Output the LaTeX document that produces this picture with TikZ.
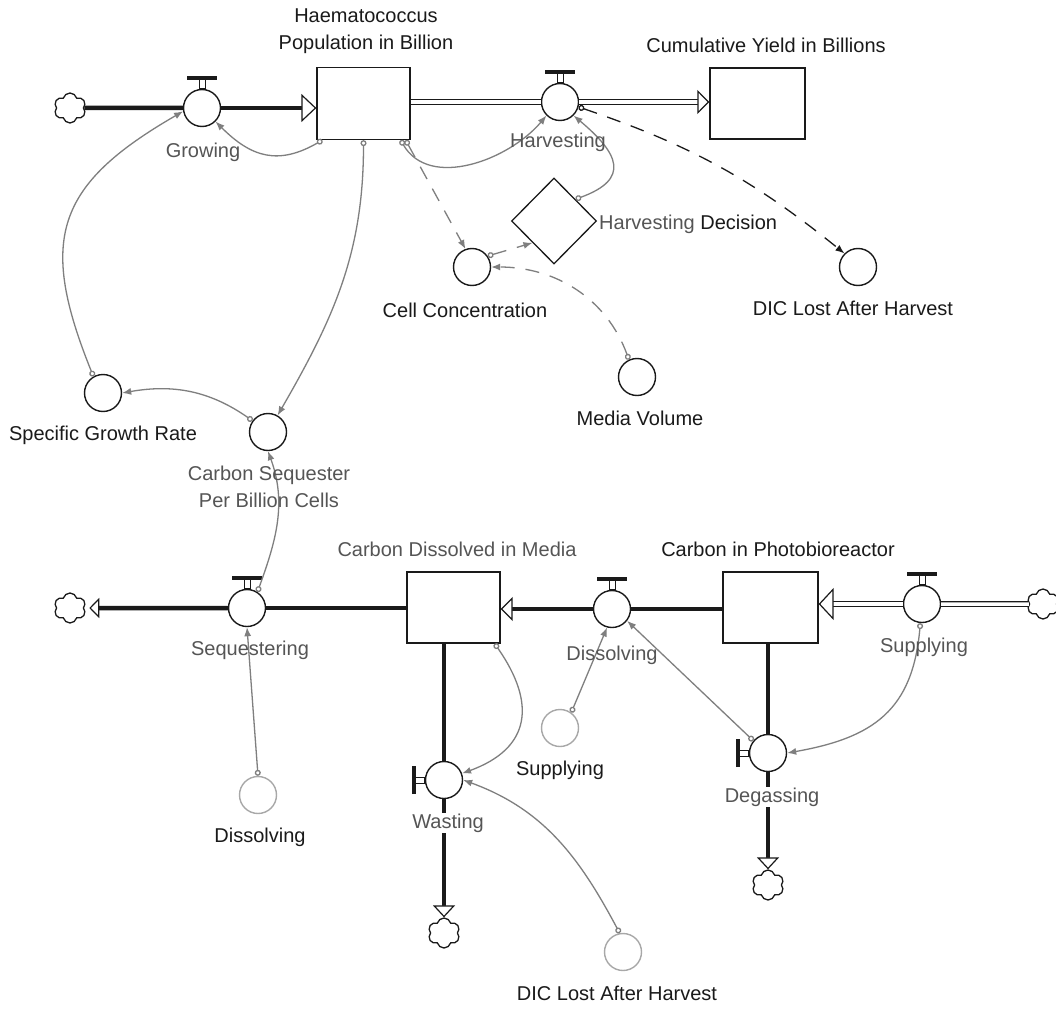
\documentclass[tikz,border=0pt]{standalone}
\usepackage{fontspec}
\setmainfont{Liberation Sans}
\usetikzlibrary{arrows.meta,shapes.geometric,shapes.symbols}
\definecolor{sdink}{HTML}{1A1A1A}
\definecolor{sdmuted}{HTML}{555555}
\definecolor{sdlink}{HTML}{7F7F7F}
\definecolor{sdshadow}{HTML}{A8A8A8}
\tikzset{
  sdtext/.style={font=\fontsize{20}{27}\selectfont, text=sdink, inner sep=1pt},
  valvetext/.style={sdtext, text=sdmuted},
  stockbox/.style={rectangle, draw=sdink, line width=1.3pt, fill=white,
    minimum width=93pt, minimum height=72pt, inner sep=0pt},
  valve/.style={circle, draw=sdink, line width=1.4pt, fill=white,
    minimum size=37pt, inner sep=0pt},
  auxvar/.style={circle, draw=sdink, line width=1.4pt, fill=white,
    minimum size=37pt, inner sep=0pt},
  shadowvar/.style={auxvar, draw=sdshadow},
  decisionbox/.style={diamond, draw=sdink, line width=1.3pt, fill=white,
    minimum width=85pt, minimum height=86pt, inner sep=0pt},
  sdcloud/.style={cloud, cloud puffs=6, aspect=1, draw=sdink, line width=1.3pt,
    fill=white, minimum width=32pt, minimum height=30pt, inner sep=0pt},
  solidpipe/.style={draw=sdink, line width=4.5pt},
  doublepipe/.style={draw=sdink, line width=1.1pt, double=white, double distance=3.5pt},
  valvestem/.style={draw=sdink, line width=1pt, fill=white},
  valvebar/.style={draw=sdink, line width=4pt},
  infolink/.style={draw=sdlink, line width=1.3pt,
    {Circle[open, length=6pt]}-{Latex[length=9pt, width=7pt]}},
  dashlink/.style={infolink, dash pattern=on 14pt off 11pt}
}

\begin{document}
\begin{tikzpicture}[x=1pt,y=-1pt]
  % stock and flow map: algae population on top, carbon chain below
  \fill[white] (0,0) rectangle (1056,1008);
  \useasboundingbox (0,0) rectangle (1056,1008);

  \node[stockbox] (stkPop) at (363.5,103.5) {};
  \node[stockbox, minimum width=95pt, minimum height=71pt] (stkCum) at (757.5,103.5) {};
  \node[stockbox, minimum height=71pt] (stkMedia) at (453.5,607.5) {};
  \node[stockbox, minimum width=95pt, minimum height=71pt] (stkPhoto) at (770.5,607.5) {};

  \node[valve] (vGrow) at (202,108) {};
  \node[valve] (vHarv) at (560,102) {};
  \node[valve] (vSeq) at (247,608) {};
  \node[valve] (vDiss) at (612,609) {};
  \node[valve] (vSupp) at (922,604) {};
  \node[valve] (vWaste) at (444,780) {};
  \node[valve] (vDegas) at (768,753) {};

  \node[sdcloud] (cloudGrow) at (70,108) {};
  \node[sdcloud] (cloudSeq) at (70,608) {};
  \node[sdcloud] (cloudSupp) at (1043,604) {};
  \node[sdcloud] (cloudWaste) at (444,933) {};
  \node[sdcloud] (cloudDegas) at (768,885) {};

  \node[auxvar] (cellConc) at (472,267) {};
  \node[auxvar] (dicTop) at (858,267) {};
  \node[auxvar] (mediaVol) at (637,377) {};
  \node[auxvar] (growRate) at (103,393) {};
  \node[auxvar] (seqPerCell) at (268,432) {};
  \node[shadowvar] (dissAux) at (258,795) {};
  \node[shadowvar] (suppAux) at (560,728) {};
  \node[shadowvar] (dicBot) at (623,952) {};
  \node[decisionbox] (harvDec) at (554,221) {};

  \draw[solidpipe] (cloudGrow.east) -- (vGrow.west);
  \draw[solidpipe, -{Triangle[fill=white, line width=1.2pt, length=15pt, width=28pt]}]
    (vGrow.east) -- (vGrow -| stkPop.west);
  \draw[doublepipe] (stkPop.east |- vHarv) -- (vHarv.west);
  \draw[doublepipe, -{Triangle[fill=white, line width=1.2pt, length=12pt, width=24pt]}]
    (vHarv.east) -- (vHarv -| stkCum.west);
  \draw[solidpipe] (vSeq -| stkMedia.west) -- (vSeq.east);
  \draw[solidpipe, -{Triangle[fill=white, line width=1.2pt, length=10pt, width=20pt]}]
    (vSeq.west) -- ([xshift=5pt]cloudSeq.east);
  \draw[solidpipe] (vDiss -| stkPhoto.west) -- (vDiss.east);
  \draw[solidpipe, -{Triangle[fill=white, line width=1.2pt, length=12pt, width=24pt]}]
    (vDiss.west) -- (vDiss -| stkMedia.east);
  \draw[doublepipe] (cloudSupp.west) -- (vSupp.east);
  \draw[doublepipe, -{Triangle[fill=white, line width=1.2pt, length=15pt, width=32pt]}]
    (vSupp.west) -- (vSupp -| stkPhoto.east);
  \draw[solidpipe] (vWaste |- stkMedia.south) -- (vWaste.north);
  \draw[solidpipe, -{Triangle[fill=white, line width=1.2pt, length=12pt, width=22pt]}]
    (vWaste.south) -- (cloudWaste.north);
  \draw[solidpipe] (vDegas |- stkPhoto.south) -- (vDegas.north);
  \draw[solidpipe, -{Triangle[fill=white, line width=1.2pt, length=12pt, width=22pt]}]
    (vDegas.south) -- (cloudDegas.north);

  \foreach \v in {vGrow,vHarv,vSeq,vDiss,vSupp} {
    \draw[valvestem] ([xshift=-3pt]\v.north) rectangle ([xshift=3pt,yshift=9pt]\v.north);
    \draw[valvebar] ([xshift=-15pt,yshift=11pt]\v.north) -- ([xshift=15pt,yshift=11pt]\v.north);
  }
  \foreach \v in {vWaste,vDegas} {
    \draw[valvestem] ([yshift=-3pt]\v.west) rectangle ([xshift=-9pt,yshift=3pt]\v.west);
    \draw[valvebar] ([xshift=-11pt,yshift=-14pt]\v.west) -- ([xshift=-11pt,yshift=14pt]\v.west);
  }

  \draw[infolink] ([xshift=6pt]stkPop.south west) to[out=-150, in=-45, looseness=1.2] (vGrow.-45);
  \draw[infolink] ([xshift=-10pt]stkPop.south east) to[out=-60, in=-130] (vHarv.-135);
  \draw[infolink] (stkPop.south) to[out=-90, in=60] (seqPerCell.60);
  \draw[infolink] (harvDec.north east) to[out=20, in=-40, looseness=1.8] (vHarv.-45);
  \draw[dashlink] ([xshift=-5pt]stkPop.south east) -- (cellConc.110);
  \draw[dashlink] (cellConc.35) -- (harvDec.south west);
  \draw[dashlink] (mediaVol.115) to[out=110, in=0] (cellConc.east);
  \draw[dashlink, draw=sdink] (vHarv.-15) to[bend left=10] (dicTop.135);
  \draw[infolink] (growRate.120) to[out=112, in=-150, looseness=1.35] (vGrow.190);
  \draw[infolink] (seqPerCell.144) to[out=145, in=10] (growRate.east);
  \draw[infolink] (vSeq.57) to[out=70, in=-70] (seqPerCell.south);
  \draw[infolink] (dissAux.north) -- (vSeq.south);
  \draw[infolink] ([xshift=-6pt]stkMedia.south east) to[out=-55, in=20, looseness=1.4] (vWaste.20);
  \draw[infolink] (dicBot.100) to[out=118, in=-20] (vWaste.east);
  \draw[infolink] (suppAux.54) -- (vDiss.-105);
  \draw[infolink] (vDegas.140) -- (vDiss.-38);
  \draw[infolink] (vSupp.-95) to[out=-95, in=10, looseness=1.2] (vDegas.east);

  \node[sdtext, align=center] (lblPop) at (366,31.5) {Haematococcus\\Population in Billion};
  \node[sdtext] (lblCum) at (766,45) {Cumulative Yield in Billions};
  \node[valvetext] (lblGrow) at (203,152) {Growing};
  \node[valvetext] (lblHarv) at (558,142) {Harvesting};
  \node[sdtext, anchor=west] (lblDec) at (598,224) {\textcolor{sdmuted}{Harvesting} Decision};
  \node[sdtext] (lblCell) at (465,310) {Cell Concentration};
  \node[sdtext] (lblDicTop) at (853,308) {DIC Lost After Harvest};
  \node[sdtext] (lblVol) at (640,418) {Media Volume};
  \node[sdtext] (lblRate) at (103,435) {Specific Growth Rate};
  \node[valvetext, align=center] (lblSeqPer) at (269,486.5) {Carbon Sequester\\Per Billion Cells};
  \node[valvetext] (lblMedia) at (457,549) {Carbon Dissolved in Media};
  \node[sdtext] (lblPhoto) at (778,549) {Carbon in Photobioreactor};
  \node[valvetext] (lblSeq) at (250,650) {Sequestering};
  \node[valvetext] (lblDiss) at (612,655) {Dissolving};
  \node[valvetext] (lblSupp) at (924,647) {Supplying};
  \node[sdtext] (lblSuppAux) at (560,770) {Supplying};
  \node[valvetext, fill=white] (lblDegas) at (772,797) {Degassing};
  \node[valvetext, fill=white] (lblWaste) at (448,823) {Wasting};
  \node[sdtext] (lblDissAux) at (260,837) {Dissolving};
  \node[sdtext] (lblDicBot) at (617,993) {DIC Lost After Harvest};
\end{tikzpicture}
\end{document}
